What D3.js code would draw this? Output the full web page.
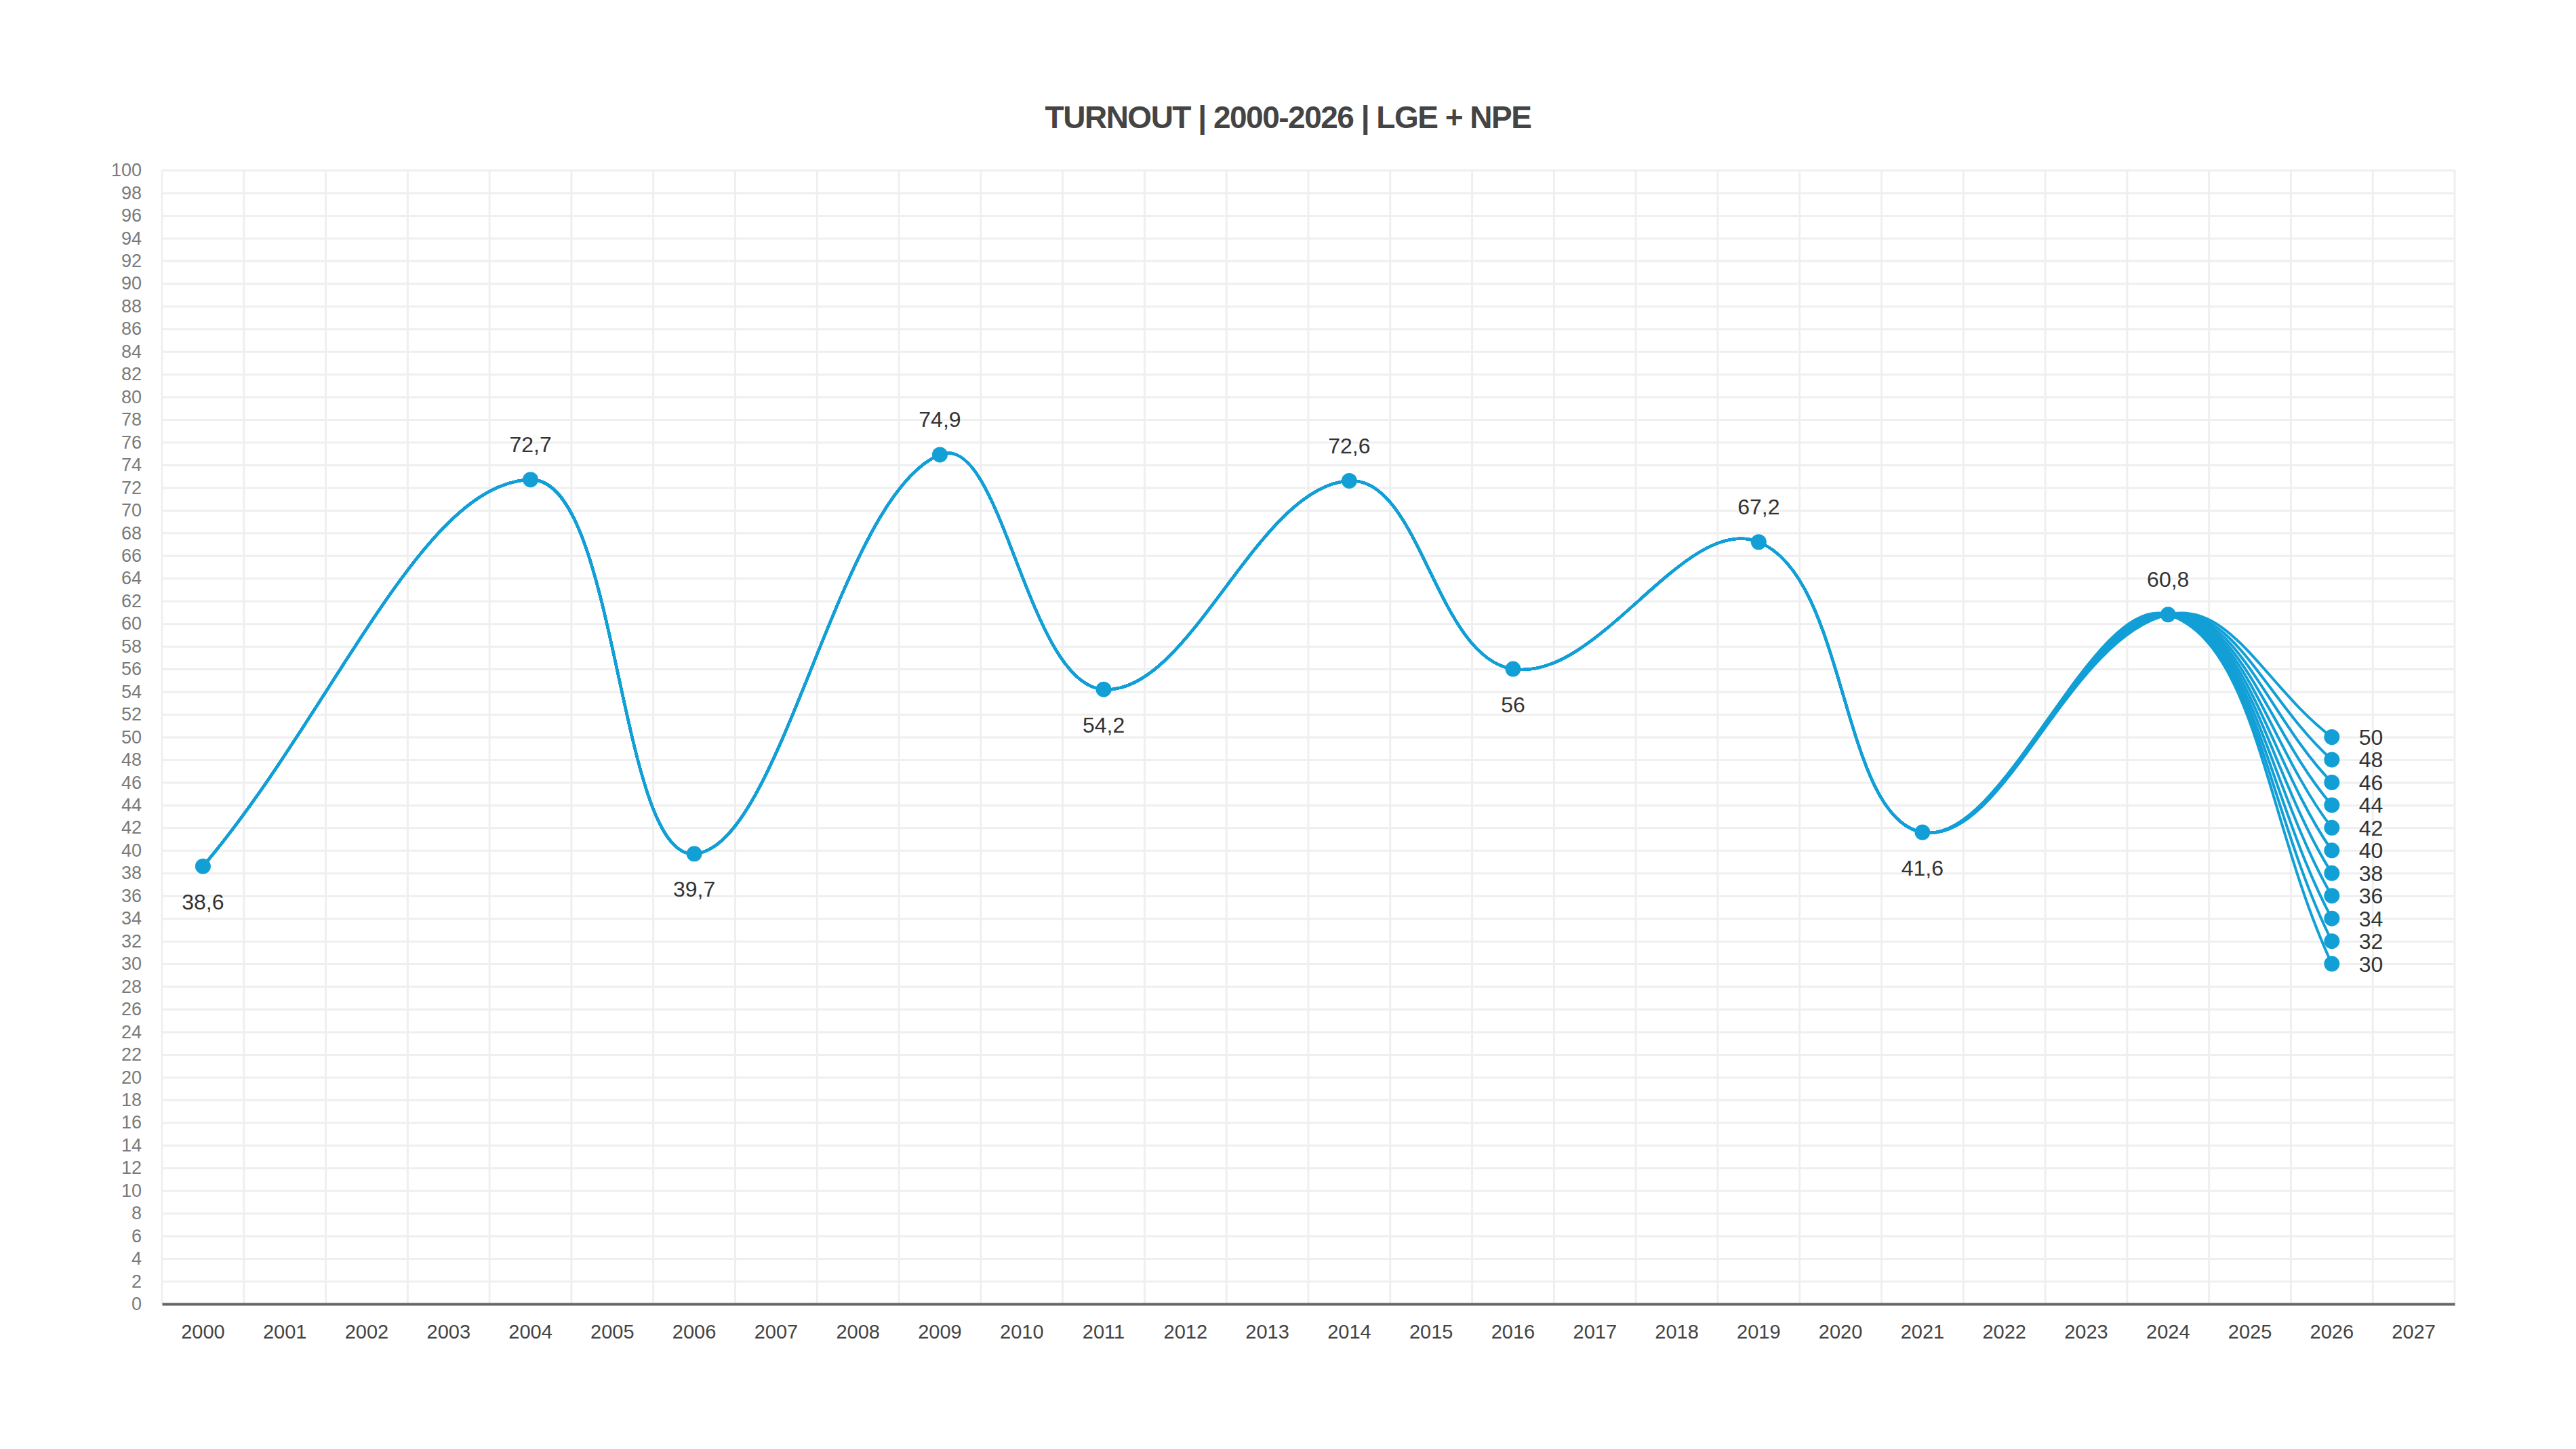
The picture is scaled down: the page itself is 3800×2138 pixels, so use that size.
<!DOCTYPE html>
<html>
<head>
<meta charset="utf-8">
<script src="https://cdn.jsdelivr.net/npm/d3@7"></script>
<style>
  body { margin: 0; background: #fff; }
  text { font-family: "Liberation Sans", Arial, Helvetica, sans-serif; }
</style>
</head>
<body>
<svg width="3800" height="2138"></svg>
<script>
// Categories on the x axis (one band per year, 2027 is empty)
var years = [2000, 2001, 2002, 2003, 2004, 2005, 2006, 2007, 2008, 2009,
  2010, 2011, 2012, 2013, 2014, 2015, 2016, 2017, 2018, 2019,
  2020, 2021, 2022, 2023, 2024, 2025, 2026, 2027];

// Years with an election and the turnout (%)
var electionYears = [2000, 2004, 2006, 2009, 2011, 2014, 2016, 2019, 2021, 2024];
var turnout = [38.6, 72.7, 39.7, 74.9, 54.2, 72.6, 56, 67.2, 41.6, 60.8];

// Scenarios for 2026
var year2026 = 2026;
var scenarios2026 = [50, 48, 46, 44, 42, 40, 38, 36, 34, 32, 30];

// Y tick labels
var yTicks = [0, 2, 4, 6, 8, 10, 12, 14, 16, 18, 20, 22, 24, 26, 28, 30, 32, 34,
  36, 38, 40, 42, 44, 46, 48, 50, 52, 54, 56, 58, 60, 62, 64, 66, 68, 70, 72,
  74, 76, 78, 80, 82, 84, 86, 88, 90, 92, 94, 96, 98, 100];

var title = "TURNOUT | 2000-2026 | LGE + NPE";

var svg = d3.select("svg"),
  margin = { top: 251, right: 179, bottom: 214, left: 239 },
  width = svg.attr("width") - margin.left - margin.right,
  height = svg.attr("height") - margin.top - margin.bottom;

var blue = "#129fd6";
var fmt = function (v) { return String(v).replace(".", ","); };

// Title
svg.append("text")
  .attr("x", 1900)
  .attr("y", 189)
  .attr("text-anchor", "middle")
  .style("font-size", "46px")
  .style("font-weight", "bold")
  .style("letter-spacing", "-1.5px")
  .style("fill", "#444")
  .text(title);

var g = svg.append("g")
  .attr("transform", "translate(" + margin.left + "," + margin.top + ")");

var xScale = d3.scaleBand().domain(years).range([0, width]).padding(0);
var yScale = d3.scaleLinear().domain([0, 100]).range([height, 0]);
var xc = function (yr) { return xScale(yr) + xScale.bandwidth() / 2; };

// Horizontal grid
g.append("g")
  .call(d3.axisLeft(yScale).tickValues(yTicks).tickSize(-width).tickFormat(""))
  .call(function (a) {
    a.select(".domain").remove();
    a.selectAll("line").attr("stroke", "#efefef").attr("stroke-width", 3);
  });

// Vertical grid at band edges
g.append("g")
  .selectAll("line")
  .data(years.concat(["end"]))
  .enter()
  .append("line")
  .attr("x1", function (d, i) { return i * xScale.step(); })
  .attr("x2", function (d, i) { return i * xScale.step(); })
  .attr("y1", 0)
  .attr("y2", height)
  .attr("stroke", "#efefef")
  .attr("stroke-width", 3);

// Y axis labels
g.append("g")
  .call(d3.axisLeft(yScale).tickValues(yTicks).tickSize(0).tickPadding(30))
  .call(function (a) {
    a.select(".domain").remove();
    a.selectAll("text")
      .style("font-size", "27px")
      .style("font-family", "'Liberation Sans', Arial, sans-serif")
      .attr("fill", "#7a7a7a");
  });

// X axis
g.append("g")
  .attr("transform", "translate(0," + height + ")")
  .call(d3.axisBottom(xScale).tickSize(0).tickPadding(30))
  .call(function (a) {
    a.select(".domain").attr("stroke", "#666").attr("stroke-width", 4);
    a.selectAll("text")
      .style("font-size", "29px")
      .style("font-family", "'Liberation Sans', Arial, sans-serif")
      .attr("fill", "#444");
  });

// Spline like a bezier with tension (control points along prev -> next)
function curveTension(context) {
  var pts;
  var t = 0.4;
  return {
    areaStart: function () {},
    areaEnd: function () {},
    lineStart: function () { pts = []; },
    point: function (x, y) { pts.push([+x, +y]); },
    lineEnd: function () {
      var cps = pts.map(function (cur, i) {
        var prev = pts[i - 1] || cur, next = pts[i + 1] || cur;
        var d01 = Math.hypot(cur[0] - prev[0], cur[1] - prev[1]);
        var d12 = Math.hypot(next[0] - cur[0], next[1] - cur[1]);
        var s01 = d01 / (d01 + d12) || 0, s12 = d12 / (d01 + d12) || 0;
        var fa = t * s01, fb = t * s12;
        return {
          prev: [cur[0] - fa * (next[0] - prev[0]), cur[1] - fa * (next[1] - prev[1])],
          next: [cur[0] + fb * (next[0] - prev[0]), cur[1] + fb * (next[1] - prev[1])]
        };
      });
      context.moveTo(pts[0][0], pts[0][1]);
      for (var i = 1; i < pts.length; i++) {
        context.bezierCurveTo(cps[i - 1].next[0], cps[i - 1].next[1],
          cps[i].prev[0], cps[i].prev[1], pts[i][0], pts[i][1]);
      }
    }
  };
}

var line = d3.line()
  .x(function (d) { return xc(d[0]); })
  .y(function (d) { return yScale(d[1]); })
  .curve(curveTension);

var base = electionYears.map(function (yr, i) { return [yr, turnout[i]]; });
var series = scenarios2026.map(function (v) { return base.concat([[year2026, v]]); });

// Lines (one per 2026 scenario)
g.selectAll(".line")
  .data(series)
  .enter()
  .append("path")
  .attr("class", "line")
  .attr("d", line)
  .attr("fill", "none")
  .attr("stroke", blue)
  .attr("stroke-width", 4);

// Points
g.selectAll(".pt")
  .data(base)
  .enter()
  .append("circle")
  .attr("cx", function (d) { return xc(d[0]); })
  .attr("cy", function (d) { return yScale(d[1]); })
  .attr("r", 11.5)
  .attr("fill", blue);

g.selectAll(".pt26")
  .data(scenarios2026)
  .enter()
  .append("circle")
  .attr("cx", xc(year2026))
  .attr("cy", function (d) { return yScale(d); })
  .attr("r", 11.5)
  .attr("fill", blue);

// Value labels: above peaks, below troughs
g.selectAll(".lbl")
  .data(base)
  .enter()
  .append("text")
  .attr("x", function (d) { return xc(d[0]); })
  .attr("y", function (d, i) {
    var ref = i > 0 ? turnout[i - 1] : turnout[i + 1];
    return yScale(d[1]) + (d[1] > ref ? -52 : 52);
  })
  .attr("dy", "0.36em")
  .attr("text-anchor", "middle")
  .style("font-size", "32px")
  .style("fill", "#333")
  .text(function (d) { return fmt(d[1]); });

g.selectAll(".lbl26")
  .data(scenarios2026)
  .enter()
  .append("text")
  .attr("x", xc(year2026) + 40)
  .attr("y", function (d) { return yScale(d); })
  .attr("dy", "0.36em")
  .style("font-size", "32px")
  .style("fill", "#333")
  .text(function (d) { return fmt(d); });
</script>
</body>
</html>
